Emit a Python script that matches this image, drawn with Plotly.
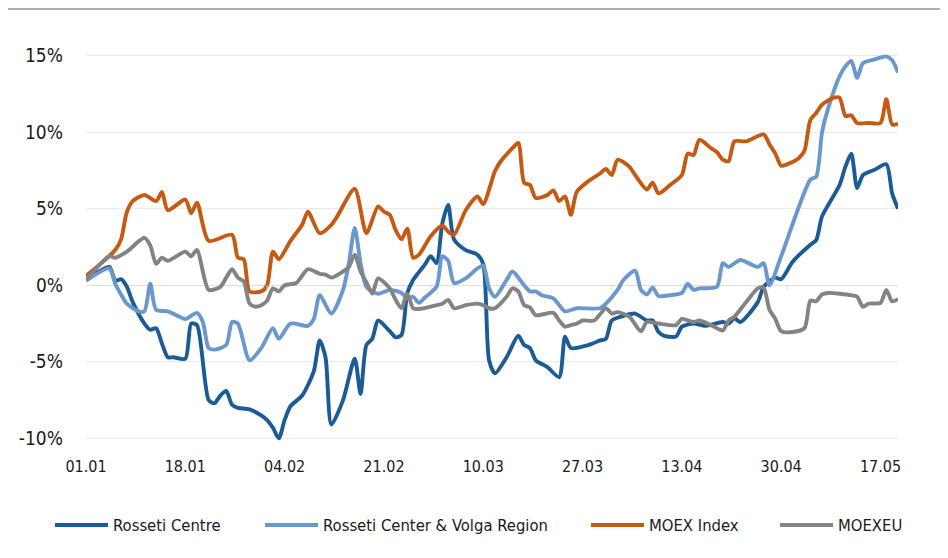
import pandas as pd
import plotly.graph_objects as go

# ---------------- data (day offsets from 01.01.2021, % change) ----------------
START = "2021-01-01"

rc_day = [0, 4, 5, 6, 7, 8, 10, 11, 12, 13, 14, 15, 17, 18, 19, 21, 22, 23, 24, 25, 26, 28, 30, 31, 32, 33, 34, 35,
          37, 39, 40, 41, 42, 44, 46, 47, 48, 49, 50, 52, 53, 54, 55, 56, 58, 59, 60, 61, 62, 63, 65, 67, 68, 69, 70,
          72, 74, 75, 76, 77, 79, 81, 82, 83, 86, 88, 89, 90, 92, 94, 96, 97, 98, 99, 101, 102, 104,
          106, 109, 110, 111, 112, 115, 116, 118, 119, 121, 124, 125, 126, 129, 130, 131, 132, 133, 135, 137, 138, 139]
rc_val = [0.35, 1.2, 0.3, 0.4, -0.1, -1.1, -2.5, -2.9, -2.8, -3.8, -4.7, -4.7, -4.8, -2.5, -2.6, -7.5, -7.7, -7.2,
          -6.9, -7.8, -8.0, -8.1, -8.5, -8.8, -9.3, -10.0, -8.8, -7.9,
          -7.2, -5.6, -3.6, -4.7, -9.1, -7.5, -4.8, -7.1, -3.9, -3.5, -2.3, -3.0, -3.4, -3.25, -0.5, 0.35, 1.35, 1.9,
          1.45, 4.05, 5.25, 3.0, 2.3, 2.0, 1.4, -4.9, -5.75,
          -4.7, -3.3, -3.9, -4.1, -4.9, -5.35, -6.0, -3.35, -4.1, -3.9, -3.6, -3.5, -2.3, -2.0, -1.85, -2.3, -2.3,
          -3.05, -3.3, -3.35, -2.7, -2.5,
          -2.65, -2.4, -2.5, -2.15, -2.4, -1.1, -0.1, 0.5, 0.4, 1.55, 2.65, 2.95, 4.5, 6.55, 7.75, 8.6, 6.35, 7.2,
          7.55, 7.9, 6.0, 5.0]

rcv_day = [0, 4, 5, 6, 7, 9, 10, 11, 12, 14, 16, 17, 19, 20, 21, 22, 24, 25, 26, 28, 30, 32, 33, 35,
           38, 39, 40, 42, 44, 45, 46, 47, 48, 50, 52, 54, 55, 56, 57, 58, 60, 61, 62, 63, 65, 67, 68, 69, 70,
           72, 73, 75, 76, 77, 78, 80, 82, 84, 88, 89, 91, 92, 94, 95, 96, 97, 98, 100, 102, 103, 104,
           105, 108, 109, 110, 112, 115, 116, 117, 119, 124, 125, 126, 127, 129, 130, 131, 132, 133, 135, 137, 138, 139]
rcv_val = [0.3, 1.1, 0.1, -0.6, -1.2, -1.7, -1.7, 0.1, -1.6, -1.7, -2.05, -2.2, -1.8, -2.4, -4.1, -4.2, -3.9, -2.4,
           -2.5, -4.9, -4.1, -2.8, -3.5, -2.5,
           -2.65, -2.2, -0.65, -1.85, -0.3, 1.45, 3.75, 1.45, -0.1, -0.55, -0.3, -0.5, -0.85, -0.75, -1.15, -0.8,
           -0.1, 1.9, 1.6, 0.15, 0.45, 1.1, 1.3, -0.2, -0.75,
           0.35, 0.9, 0.0, -0.4, -0.4, -0.65, -0.85, -1.7, -1.5, -1.5, -1.2, -0.3, 0.35, 0.95, -0.3, -0.6, -0.15,
           -0.7, -0.65, -0.5, 0.1, -0.3,
           -0.2, -0.1, 1.45, 1.2, 1.65, 1.2, 1.45, 0.0, 1.9, 6.9, 7.1, 10.0, 11.5, 13.65, 14.3, 14.65, 13.55, 14.5,
           14.75, 14.95, 14.7, 13.9]

moex_day = [0, 5, 6, 7, 8, 10, 12, 13, 14, 17, 18, 19, 21, 25, 26, 27, 28, 30, 31, 32, 33, 35,
            37, 38, 40, 42, 43, 46, 48, 50, 51, 52, 53, 54, 55, 56, 57, 59, 61, 62, 63, 65, 67, 68,
            70, 71, 73, 74, 75, 76, 77, 79, 80, 81, 82, 83, 84, 86, 88, 89, 90, 91, 93, 94, 96, 97, 98, 100,
            102, 103, 104, 105, 107, 108, 109, 110, 111, 113, 116, 117, 118, 119, 120, 122, 123, 124, 125,
            126, 128, 129, 130, 131, 132, 134, 136, 137, 138, 139]
moex_val = [0.6, 2.3, 3.0, 4.8, 5.5, 5.9, 5.5, 6.1, 4.9, 5.6, 4.7, 5.4, 2.9, 3.3, 1.8, 1.7, -0.4, -0.4, 0.0, 2.2,
            1.7, 2.9,
            3.95, 4.8, 3.4, 3.95, 4.5, 6.3, 3.4, 5.15, 4.8, 4.6, 3.6, 3.0, 3.7, 1.8, 2.0, 3.2, 3.9, 3.5, 3.3, 4.9,
            5.8, 5.3,
            7.45, 8.1, 8.95, 9.3, 6.7, 6.55, 5.7, 5.9, 6.2, 5.5, 5.8, 4.6, 6.1, 6.8, 7.3, 7.6, 7.2, 8.2, 7.75, 7.2,
            6.25, 6.7, 6.0, 6.55,
            7.2, 8.6, 8.5, 9.5, 8.95, 8.7, 8.2, 8.1, 9.4, 9.4, 9.85, 9.2, 8.6, 7.8, 7.9, 8.3, 8.8, 10.8, 11.25,
            11.8, 12.25, 12.25, 11.05, 11.1, 10.6, 10.6, 10.6, 12.15, 10.5, 10.55]

eu_day = [0, 4, 5, 7, 10, 11, 12, 13, 14, 17, 18, 19, 21, 23, 24, 25, 26, 27, 28, 29, 30, 31, 32, 33, 34,
          36, 38, 40, 41, 42, 44, 45, 46, 47, 48, 49, 50, 52, 53, 54, 55, 56, 57, 60, 61, 62, 63, 65, 67, 68, 69, 70,
          72, 73, 74, 75, 76, 77, 80, 81, 82, 83, 84, 85, 87, 89, 90, 91, 93, 95, 96, 98, 101, 102, 104,
          105, 107, 109, 110, 111, 113, 115, 116, 117, 118, 119, 121, 123, 124, 125, 126, 127, 131, 132, 133,
          134, 136, 137, 138, 139]
eu_val = [0.35, 1.9, 1.8, 2.2, 3.1, 2.6, 1.4, 1.8, 1.6, 2.2, 1.9, 2.3, -0.3, -0.1, 0.5, 1.05, 0.5, 0.25, -1.2,
          -1.4, -1.3, -1.0, -0.2, -0.4, 0.0,
          0.15, 1.05, 0.75, 0.7, 0.5, 0.9, 1.2, 2.0, 0.9, 0.2, -0.55, 0.45, -0.2, -0.95, -1.5, -0.55, -1.5, -1.55,
          -1.3, -1.2, -0.95, -1.5, -1.3, -1.2, -1.3, -1.5, -1.5,
          -0.75, -0.2, -0.4, -1.3, -1.45, -1.95, -1.8, -2.3, -2.7, -2.6, -2.5, -2.3, -2.3, -1.5, -1.85, -1.75,
          -2.05, -3.0, -2.4, -2.5, -2.6, -2.2, -2.4,
          -2.3, -2.6, -2.95, -2.3, -2.05, -1.1, -0.2, -0.15, -1.6, -2.2, -3.0, -3.05, -2.8, -1.0, -1.05, -0.6,
          -0.5, -0.65, -0.75, -1.4, -1.2, -1.15, -0.3, -1.05, -0.9]

series_names = ["Rosseti Centre", "Rosseti Center & Volga Region", "MOEX Index", "MOEXEU"]
series_colors = ["#1B5B96", "#6A98CE", "#C65A12", "#838383"]

x_tick_dates = ["2021-01-01", "2021-01-18", "2021-02-04", "2021-02-21", "2021-03-10",
                "2021-03-27", "2021-04-13", "2021-04-30", "2021-05-17"]
x_tick_labels = ["01.01", "18.01", "04.02", "21.02", "10.03", "27.03", "13.04", "30.04", "17.05"]
y_tick_vals = [-10, -5, 0, 5, 10, 15]
y_tick_labels = ["-10%", "-5%", "0%", "5%", "10%", "15%"]
month_starts = ["2021-02-01", "2021-03-01", "2021-04-01", "2021-05-01"]

# ---------------- figure (page has an 8px body margin) ----------------
OFF = 8
W, H = 940, 550
L, R = 78, 50
T, B = 43, 115
FONT = "DejaVu Sans Condensed, Liberation Sans Narrow, Arial Narrow, sans-serif"


def to_dates(days):
    return pd.to_datetime(START) + pd.to_timedelta(days, unit="D")


fig = go.Figure()
for days, vals, name, color in zip([rc_day, rcv_day, moex_day, eu_day],
                                   [rc_val, rcv_val, moex_val, eu_val],
                                   series_names, series_colors):
    fig.add_trace(go.Scatter(x=to_dates(days), y=vals, name=name, mode="lines",
                             line=dict(color=color, width=3.9, shape="spline", smoothing=0.7),
                             showlegend=False))

pw = W - L - R
ph = H - T - B


def px_x(p):
    # p in page pixels
    return (p - OFF - L) / pw


def px_y(p):
    return (H - B - (p - OFF)) / ph


shapes = []
annotations = []
# top rule
shapes.append(dict(type="line", xref="paper", yref="paper", x0=px_x(OFF), x1=px_x(OFF + W),
                   y0=px_y(9), y1=px_y(9), line=dict(color="#AFAFAF", width=2.2)))
# monthly ticks on the zero line
for d in month_starts:
    shapes.append(dict(type="line", xref="x", yref="y", x0=d, x1=d, y0=0, y1=-0.28,
                       line=dict(color="#D9D9D9", width=1)))
# legend
legend_line_x = [55, 265, 591, 780]
legend_y = 525
for lx, name, color in zip(legend_line_x, series_names, series_colors):
    shapes.append(dict(type="line", xref="paper", yref="paper", x0=px_x(lx), x1=px_x(lx + 53),
                       y0=px_y(legend_y), y1=px_y(legend_y), line=dict(color=color, width=4)))
    annotations.append(dict(xref="paper", yref="paper", x=px_x(lx + 56), y=px_y(legend_y),
                            xanchor="left", yanchor="middle", text=name, showarrow=False,
                            font=dict(family=FONT, size=16.5, color="#1A1A1A")))

fig.update_layout(
    width=W, height=H,
    margin=dict(l=L, r=R, t=T, b=B, pad=0),
    paper_bgcolor="white", plot_bgcolor="white",
    font=dict(family=FONT, color="#1A1A1A"),
    shapes=shapes, annotations=annotations,
    xaxis=dict(type="date", range=["2021-01-01", "2021-05-20"],
               tickvals=x_tick_dates, ticktext=x_tick_labels,
               showgrid=False, zeroline=False, showline=False,
               ticks="outside", ticklen=9, tickcolor="rgba(0,0,0,0)",
               tickfont=dict(family=FONT, size=16, color="#1A1A1A")),
    yaxis=dict(range=[-10.3, 15.3], tickvals=y_tick_vals, ticktext=y_tick_labels,
               showgrid=True, gridcolor="#E9E9E9", gridwidth=1,
               zeroline=True, zerolinecolor="#E0E0E0", zerolinewidth=1,
               showline=False, ticks="", ticklabelstandoff=22,
               tickfont=dict(family=FONT, size=19, color="#1A1A1A")),
)

fig.write_html("out.html")
